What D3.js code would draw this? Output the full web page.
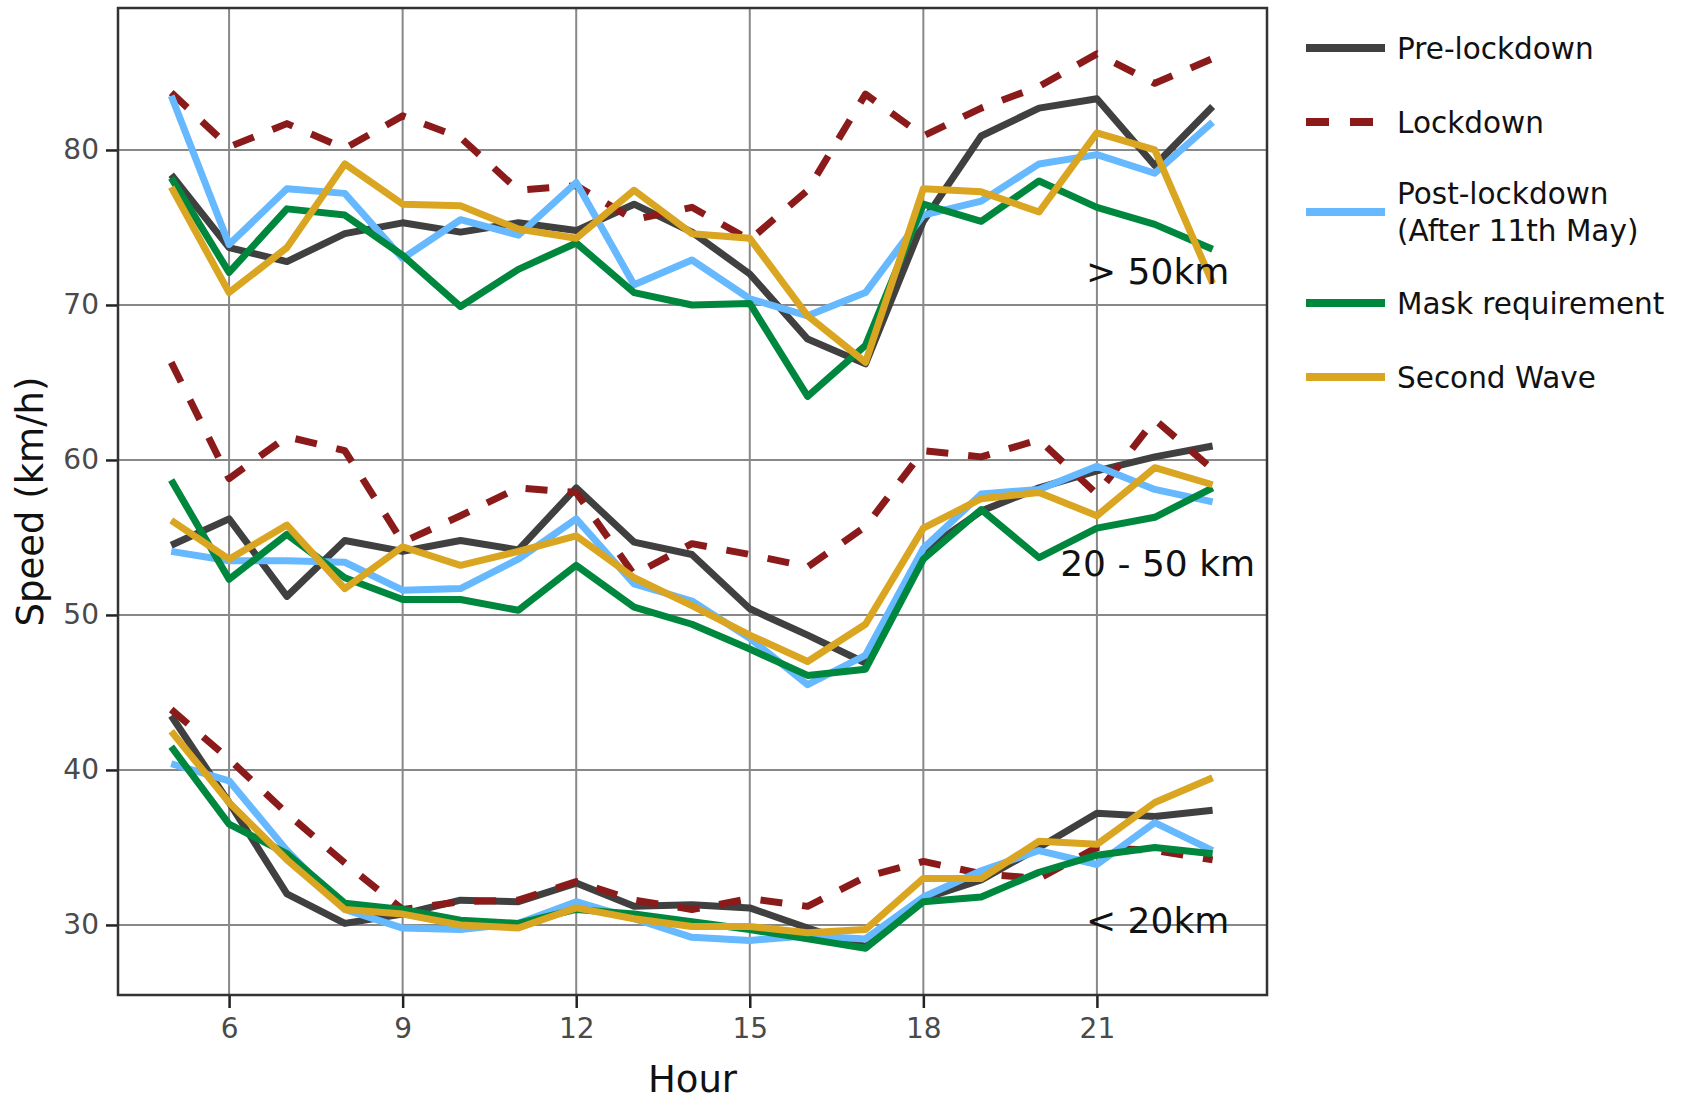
<!DOCTYPE html>
<html>
<head>
<meta charset="utf-8">
<script src="https://cdn.jsdelivr.net/npm/d3@7"></script>
<style>
  body { margin: 0; background: #fff; }
  text { font-family: "DejaVu Sans", Verdana, sans-serif; }
</style>
</head>
<body>
<div id="chart"></div>
<script>
// hours of the day on the x axis
var hours = [5, 6, 7, 8, 9, 10, 11, 12, 13, 14, 15, 16, 17, 18, 19, 20, 21, 22, 23];

// > 50km trips
var preFar  = [78.4, 73.7, 72.8, 74.6, 75.3, 74.7, 75.3, 74.8, 76.5, 74.7, 72.0, 67.8, 66.2, 75.4, 80.9, 82.7, 83.3, 79.0, 82.8];
var lockFar = [83.7, 80.2, 81.7, 80.1, 82.2, 80.8, 77.4, 77.7, 75.5, 76.3, 74.2, 77.4, 83.6, 80.9, 82.7, 84.1, 86.2, 84.3, 85.9];
var postFar = [83.5, 73.9, 77.5, 77.2, 73.0, 75.5, 74.5, 77.9, 71.3, 72.9, 70.4, 69.3, 70.8, 75.8, 76.7, 79.1, 79.7, 78.5, 81.8];
var maskFar = [78.2, 72.1, 76.2, 75.8, 73.2, 69.9, 72.3, 74.0, 70.8, 70.0, 70.1, 64.1, 67.4, 76.5, 75.4, 78.0, 76.3, 75.2, 73.6];
var waveFar = [77.6, 70.8, 73.7, 79.1, 76.5, 76.4, 74.9, 74.3, 77.4, 74.6, 74.3, 69.3, 66.3, 77.5, 77.3, 76.0, 81.1, 80.0, 71.4];

// 20 - 50 km trips
var preMid  = [54.5, 56.2, 51.2, 54.8, 54.1, 54.8, 54.2, 58.2, 54.7, 53.9, 50.4, 48.7, 46.9, 54.1, 56.7, 58.2, 59.3, 60.2, 60.9];
var lockMid = [66.3, 58.8, 61.5, 60.6, 54.7, 56.4, 58.2, 57.9, 52.6, 54.6, 53.9, 53.1, 55.7, 60.6, 60.2, 61.3, 57.8, 62.6, 59.4];
var postMid = [54.1, 53.5, 53.5, 53.4, 51.6, 51.7, 53.6, 56.2, 52.0, 50.9, 48.5, 45.5, 47.4, 54.3, 57.8, 58.1, 59.6, 58.1, 57.3];
var maskMid = [58.7, 52.3, 55.2, 52.4, 51.0, 51.0, 50.3, 53.2, 50.5, 49.4, 47.8, 46.1, 46.5, 53.6, 56.8, 53.7, 55.6, 56.3, 58.2];
var waveMid = [56.1, 53.6, 55.8, 51.7, 54.4, 53.2, 54.1, 55.1, 52.4, 50.6, 48.7, 47.0, 49.4, 55.6, 57.5, 57.9, 56.4, 59.5, 58.4];

// < 20km trips
var preNear  = [43.5, 37.9, 32.0, 30.1, 30.7, 31.6, 31.5, 32.7, 31.2, 31.3, 31.1, 29.8, 28.6, 31.7, 32.9, 35.0, 37.2, 37.0, 37.4];
var lockNear = [43.9, 40.7, 37.2, 34.0, 31.0, 31.5, 31.6, 32.8, 31.6, 31.0, 31.7, 31.2, 33.1, 34.1, 33.3, 33.0, 35.0, 34.8, 34.2];
var postNear = [40.4, 39.3, 34.8, 31.0, 29.8, 29.7, 30.1, 31.5, 30.4, 29.2, 29.0, 29.3, 29.1, 31.8, 33.5, 34.8, 33.9, 36.6, 34.8];
var maskNear = [41.5, 36.5, 34.6, 31.4, 31.0, 30.3, 30.1, 31.0, 30.7, 30.2, 29.7, 29.1, 28.5, 31.5, 31.8, 33.4, 34.5, 35.0, 34.6];
var waveNear = [42.5, 37.9, 34.2, 31.0, 30.7, 30.0, 29.8, 31.1, 30.4, 29.9, 29.9, 29.5, 29.7, 33.0, 33.0, 35.4, 35.2, 37.9, 39.5];

var seriesNames = ["Pre-lockdown", "Lockdown", "Post-lockdown\n(After 11th May)", "Mask requirement", "Second Wave"];
var xTicks = [6, 9, 12, 15, 18, 21];
var yTicks = [30, 40, 50, 60, 70, 80];
var bandLabels = ["> 50km", "20 - 50 km", "< 20km"];
var bandLabelSpeed = [71.35, 52.5, 29.5];   // where each label sits (speed)
var bandLabelHour = 22.05;

var colors = ["#404040", "#8b1a1a", "#66b8ff", "#00873e", "#daa520"];

// build one list of lines per series, three bands each
var bySeries = [
	[preFar, preMid, preNear],
	[lockFar, lockMid, lockNear],
	[postFar, postMid, postNear],
	[maskFar, maskMid, maskNear],
	[waveFar, waveMid, waveNear]
];

var svgWidth = 1682, svgHeight = 1102;
var plotLeft = 118, plotRight = 1267, plotTop = 8, plotBottom = 995;

var svg = d3.select("#chart").append("svg")
	.attr("width", svgWidth)
	.attr("height", svgHeight);

var x = d3.scaleLinear().domain([4.08, 23.94]).range([plotLeft, plotRight]);
var y = d3.scaleLinear().domain([25.48, 89.16]).range([plotBottom, plotTop]);

// grid
svg.append("g").selectAll("line")
	.data(xTicks).enter().append("line")
	.attr("x1", d => x(d)).attr("x2", d => x(d))
	.attr("y1", plotTop).attr("y2", plotBottom)
	.attr("stroke", "#888").attr("stroke-width", 2);

svg.append("g").selectAll("line")
	.data(yTicks).enter().append("line")
	.attr("x1", plotLeft).attr("x2", plotRight)
	.attr("y1", d => y(d)).attr("y2", d => y(d))
	.attr("stroke", "#888").attr("stroke-width", 2);

// axes
var xAxis = svg.append("g")
	.attr("transform", "translate(0," + plotBottom + ")")
	.call(d3.axisBottom(x).tickValues(xTicks).tickSize(13).tickPadding(10));
var yAxis = svg.append("g")
	.attr("transform", "translate(" + plotLeft + ",0)")
	.call(d3.axisLeft(y).tickValues(yTicks).tickSize(12).tickPadding(7));

[xAxis, yAxis].forEach(function(a) {
	a.select(".domain").remove();
	a.selectAll(".tick line").attr("stroke", "#222").attr("stroke-width", 2.5);
	a.selectAll(".tick text")
		.attr("fill", "#4a4a4a")
		.style("font-size", "28px")
		.style("font-family", "'DejaVu Sans', Verdana, sans-serif");
});

// frame
svg.append("rect")
	.attr("x", plotLeft).attr("y", plotTop)
	.attr("width", plotRight - plotLeft).attr("height", plotBottom - plotTop)
	.attr("fill", "none").attr("stroke", "#333").attr("stroke-width", 2.5);

// lines
var line = d3.line()
	.x((d, i) => x(hours[i]))
	.y(d => y(d));

bySeries.forEach(function(bands, s) {
	svg.append("g").selectAll("path")
		.data(bands).enter().append("path")
		.attr("d", line)
		.attr("fill", "none")
		.attr("stroke", colors[s])
		.attr("stroke-width", 7)
		.attr("stroke-linejoin", "round")
		.attr("stroke-dasharray", s === 1 ? "22,20" : null);
});

// band labels
svg.append("g").selectAll("text")
	.data(bandLabels).enter().append("text")
	.attr("x", x(bandLabelHour))
	.attr("y", (d, i) => y(bandLabelSpeed[i]))
	.attr("text-anchor", "middle")
	.attr("fill", "#111")
	.style("font-size", "36px")
	.text(d => d);

// axis titles
svg.append("text")
	.attr("x", (plotLeft + plotRight) / 2)
	.attr("y", 1092)
	.attr("text-anchor", "middle")
	.attr("fill", "#111")
	.style("font-size", "37px")
	.text("Hour");

svg.append("text")
	.attr("transform", "translate(43," + (plotTop + plotBottom) / 2 + ") rotate(-90)")
	.attr("text-anchor", "middle")
	.attr("fill", "#111")
	.style("font-size", "37px")
	.text("Speed (km/h)");

// legend
var legendY = [48, 122, 212, 303, 377];
var legend = svg.append("g");
seriesNames.forEach(function(name, i) {
	legend.append("line")
		.attr("x1", 1306).attr("x2", 1385)
		.attr("y1", legendY[i]).attr("y2", legendY[i])
		.attr("stroke", colors[i])
		.attr("stroke-width", 8)
		.attr("stroke-dasharray", i === 1 ? "23,21" : null);
	var parts = name.split("\n");
	var t = legend.append("text")
		.attr("x", 1397)
		.attr("fill", "#111")
		.style("font-size", "29.5px");
	parts.forEach(function(p, k) {
		t.append("tspan")
			.attr("x", 1397)
			.attr("y", legendY[i] + 10.5 + (k - (parts.length - 1) / 2) * 37)
			.text(p);
	});
});
</script>
</body>
</html>
